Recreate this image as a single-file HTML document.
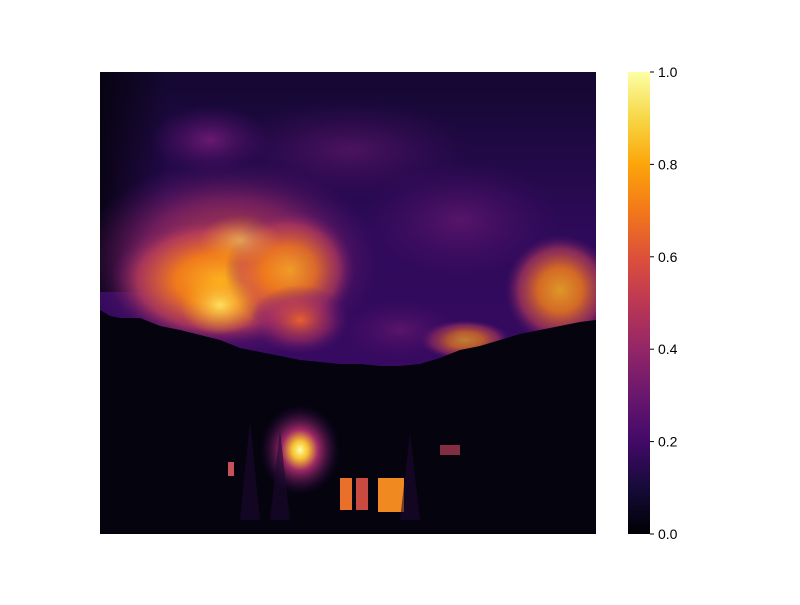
<!DOCTYPE html>
<html><head><meta charset="utf-8"><style>
body{margin:0;background:#fff;width:800px;height:600px;overflow:hidden;font-family:"Liberation Sans",sans-serif}
</style></head><body>
<svg width="800" height="600" xmlns="http://www.w3.org/2000/svg">
<defs>
<linearGradient id="cbar" x1="0" y1="1" x2="0" y2="0">
<stop offset="0" stop-color="#000004"/><stop offset="0.1" stop-color="#160b39"/><stop offset="0.2" stop-color="#420a68"/><stop offset="0.3" stop-color="#6a176e"/><stop offset="0.4" stop-color="#932667"/><stop offset="0.5" stop-color="#bc3754"/><stop offset="0.6" stop-color="#dd513a"/><stop offset="0.7" stop-color="#f37819"/><stop offset="0.8" stop-color="#fca50a"/><stop offset="0.9" stop-color="#f6d746"/><stop offset="1" stop-color="#fcffa4"/>
</linearGradient>
<linearGradient id="sky" x1="0" y1="0" x2="0" y2="1">
<stop offset="0" stop-color="#130830"/><stop offset="0.35" stop-color="#2e0a5a"/><stop offset="1" stop-color="#420a68"/>
</linearGradient>
<linearGradient id="leftdark" x1="0" y1="0" x2="1" y2="0">
<stop offset="0" stop-color="#06030f" stop-opacity="0.9"/><stop offset="1" stop-color="#06030f" stop-opacity="0"/>
</linearGradient>
<radialGradient id="fire"><stop offset="0" stop-color="#fcb020"/><stop offset="0.4" stop-color="#f07a1c"/><stop offset="0.75" stop-color="#c0405a" stop-opacity="0.7"/><stop offset="1" stop-color="#6a176e" stop-opacity="0"/></radialGradient>
<radialGradient id="fire2"><stop offset="0" stop-color="#e8602c"/><stop offset="0.6" stop-color="#a02c64" stop-opacity="0.6"/><stop offset="1" stop-color="#5a1270" stop-opacity="0"/></radialGradient>
<radialGradient id="purp"><stop offset="0" stop-color="#6a1a70"/><stop offset="1" stop-color="#4a0c68" stop-opacity="0"/></radialGradient>
<radialGradient id="hot"><stop offset="0" stop-color="#fce060"/><stop offset="1" stop-color="#fca50a" stop-opacity="0"/></radialGradient>
<radialGradient id="lamp"><stop offset="0" stop-color="#fcffa4"/><stop offset="0.2" stop-color="#f8c030"/><stop offset="0.45" stop-color="#a02a66"/><stop offset="1" stop-color="#2a0a50" stop-opacity="0"/></radialGradient>
<clipPath id="ic"><rect x="100" y="72" width="496" height="462"/></clipPath>
</defs>
<g clip-path="url(#ic)">
<rect x="100" y="72" width="496" height="462" fill="url(#sky)"/>
<rect x="100" y="72" width="70" height="220" fill="url(#leftdark)"/>
<ellipse cx="210" cy="140" rx="60" ry="35" fill="url(#purp)"/>
<ellipse cx="350" cy="150" rx="120" ry="50" fill="url(#purp)" opacity="0.6"/>
<ellipse cx="460" cy="220" rx="100" ry="60" fill="url(#purp)" opacity="0.7"/>
<ellipse cx="230" cy="260" rx="150" ry="100" fill="url(#fire2)"/>
<ellipse cx="220" cy="280" rx="110" ry="65" fill="url(#fire)"/>
<ellipse cx="290" cy="270" rx="65" ry="60" fill="url(#fire)" opacity="0.8"/>
<ellipse cx="220" cy="305" rx="40" ry="30" fill="url(#hot)"/>
<ellipse cx="240" cy="240" rx="40" ry="25" fill="url(#hot)" opacity="0.6"/>
<ellipse cx="300" cy="320" rx="50" ry="35" fill="url(#fire2)"/>
<ellipse cx="560" cy="290" rx="55" ry="55" fill="url(#fire)" opacity="0.85"/>
<ellipse cx="465" cy="340" rx="45" ry="20" fill="url(#fire)" opacity="0.7"/>
<ellipse cx="400" cy="330" rx="60" ry="30" fill="url(#purp)" opacity="0.7"/>
<polygon fill="#05030e" points="100,310 110,316 120,318 140,318 160,326 180,330 200,335 220,340 240,348 260,352 280,356 300,360 320,362 340,364 360,364 380,366 400,366 420,364 440,358 460,350 480,346 500,340 520,334 540,330 560,326 580,322 596,320 596,534 100,534"/>
<ellipse cx="300" cy="450" rx="40" ry="45" fill="url(#lamp)"/>
<g>
<rect x="340" y="478" width="12" height="32" fill="#e8702a"/>
<rect x="356" y="478" width="12" height="32" fill="#c84a40"/>
<rect x="378" y="478" width="26" height="34" fill="#f08a20"/>
<rect x="228" y="462" width="6" height="14" fill="#c8505a"/>
<rect x="440" y="445" width="20" height="10" fill="#b84058" opacity="0.7"/>
</g>
<path d="M240 520 L250 420 L260 520 Z M270 520 L280 430 L290 520 Z M400 520 L410 432 L420 520 Z" fill="#1a0830" opacity="0.6"/>
</g>
<rect x="628" y="72" width="22" height="462" fill="url(#cbar)"/>
<g id="ticks" font-size="14" fill="#000"></g>
<script>
const tickValues=[0,0.2,0.4,0.6,0.8,1.0];
const tickLabels=["0.0","0.2","0.4","0.6","0.8","1.0"];
const g=document.getElementById('ticks');
const ns='http://www.w3.org/2000/svg';
function yScale(v){return 534-v*462;}
tickValues.forEach((v,i)=>{
 const y=yScale(v);
 const l=document.createElementNS(ns,'line');
 l.setAttribute('x1',650);l.setAttribute('x2',654);l.setAttribute('y1',y);l.setAttribute('y2',y);l.setAttribute('stroke','#000');
 
 
 g.appendChild(l);
 const t=document.createElementNS(ns,'text');
 t.setAttribute('x',658);t.setAttribute('y',y+5);t.textContent=tickLabels[i];
 
 
 g.appendChild(t);
});
</script>
</svg>
</body></html>
